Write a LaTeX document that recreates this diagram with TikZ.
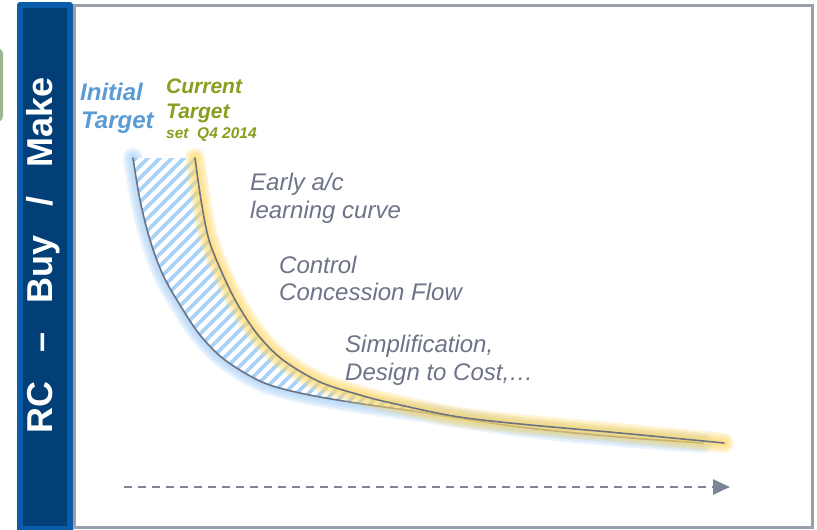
\documentclass[tikz,border=0pt]{standalone}
\usepackage{fontspec}
\setmainfont{Liberation Sans}
\usetikzlibrary{arrows.meta}
\definecolor{navy}{HTML}{023F76}
\definecolor{panelblue}{HTML}{0B5CAB}
\definecolor{framegray}{HTML}{9AA0AB}
\definecolor{txtgray}{HTML}{6E7487}
\definecolor{initblue}{HTML}{5B9BD5}
\definecolor{curolive}{HTML}{8C9C1E}
\definecolor{linegray}{HTML}{6B7384}
\definecolor{glowblue}{HTML}{9CCBF7}
\definecolor{glowyellow}{HTML}{FFD966}
\definecolor{hatchblue}{HTML}{A8D3F7}
\definecolor{arrowgray}{HTML}{7D8495}
\definecolor{sidegreen}{HTML}{9EB591}
\newcommand\initpath{plot[smooth,tension=0.55] coordinates {(133,158) (140,200) (150,240) (163,275) (180,305) (200,335) (225,360) (262,382) (300,393) (350,402) (420,412) (520,427) (620,437) (703,443)}}
\newcommand\curpath{plot[smooth,tension=0.55] coordinates {(195,158) (201,200) (209,240) (223,275) (238,305) (258,335) (283,360) (320,382) (360,395) (387,402) (453,416) (520,424) (620,433) (724,443)}}
\begin{document}
\begin{tikzpicture}[x=1pt,y=-1pt,
  note/.style={anchor=base west, inner sep=0pt, text=txtgray, font=\fontsize{24}{28}\selectfont\itshape},
  initlbl/.style={anchor=base west, inner sep=0pt, text=initblue, font=\fontsize{24}{28}\selectfont\bfseries\itshape},
  curlbl/.style={anchor=base west, inner sep=0pt, text=curolive, font=\fontsize{21}{25}\selectfont\bfseries\itshape},
  curline/.style={linegray, line width=1.6pt, line cap=round},
  glowB/.style={glowblue, opacity=0.2, line cap=round, line join=round},
  glowY/.style={glowyellow, opacity=0.24, line cap=round, line join=round}]
\useasboundingbox (0,0) rectangle (817,530);
\begin{scope}
\clip (0,0) rectangle (817,530);
\fill[white] (0,0) rectangle (817,530);
% side green box (partly visible)
\fill[sidegreen, rounded corners=6pt] (-20,48) rectangle (3,122);
% blue title panel
\fill[panelblue, rounded corners=3pt] (17,2) rectangle (73,540);
\fill[navy] (23,8) rectangle (67,526);
\node[rotate=90, anchor=base, inner sep=0pt, text=white, font=\fontsize{36}{40}\selectfont\bfseries] (title) at (52,255) {\makebox[356pt][s]{RC – Buy / Make}};
% frame
\draw[framegray, line width=3pt] (74,5.5) rectangle (812,527.5);
\end{scope}
% blue glow around initial curve
\foreach \w in {20,16,12,8,4} {\draw[glowB, line width=\w pt] \initpath;}
% hatched gap between targets
\begin{scope}
\clip plot[smooth,tension=0.55] coordinates {(133,158) (140,200) (150,240) (163,275) (180,305) (200,335) (225,360) (262,382) (300,393) (350,402) (420,412) (453,417)} -- plot[smooth,tension=0.55] coordinates {(453,416) (387,402) (360,395) (320,382) (283,360) (258,335) (238,305) (223,275) (209,240) (201,200) (195,158)} -- cycle;
\fill[white] (100,140) rectangle (500,430);
\foreach \k in {-30,...,45} {\draw[hatchblue, line width=3.6pt] ({\k*12},450) -- ({\k*12+330},120);}
\end{scope}
\draw[curline] \initpath;
% yellow glow around current curve
\foreach \w in {20,16,12,8,4} {\draw[glowY, line width=\w pt] \curpath;}
\draw[curline] \curpath;
% labels
\node[initlbl] (init1) at (80,100) {Initial};
\node[initlbl] (init2) at (81,128) {Target};
\node[curlbl] (cur1) at (166,93) {Current};
\node[curlbl] (cur2) at (166,118) {Target};
\node[anchor=base west, inner sep=0pt, text=curolive, font=\fontsize{15.5}{18}\selectfont\bfseries\itshape] (cur3) at (166,138) {set~~Q4 2014};
\node[note] (early1) at (250,190) {Early a/c};
\node[note] (early2) at (250,218) {learning curve};
\node[note] (ctrl1) at (279,273) {Control};
\node[note] (ctrl2) at (279,300) {Concession Flow};
\node[note] (simp1) at (345,352) {Simplification,};
\node[note] (simp2) at (345,380) {Design to Cost,…};
% time arrow
\coordinate (arrS) at (124,487);
\coordinate (arrE) at (730,487);
\draw[arrowgray, line width=2.5pt, dash pattern=on 8pt off 6pt, -{Triangle[length=17pt,width=15pt]}] (arrS) -- (arrE);
\end{tikzpicture}
\end{document}
